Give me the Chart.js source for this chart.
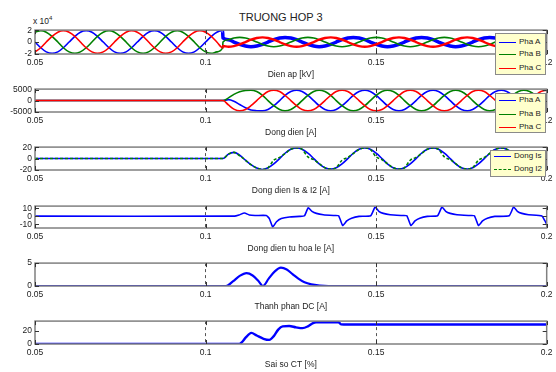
<!DOCTYPE html>
<html>
<head>
<meta charset="utf-8">
<script src="https://cdn.jsdelivr.net/npm/chart.js@4.4.1/dist/chart.umd.min.js"></script>
<style>
  body { margin: 0; background: #fff; }
  #fig { position: relative; width: 556px; height: 372px; overflow: hidden; font-family: "Liberation Sans", Arial, sans-serif; color: #222; }
  #fig canvas { position: absolute; left: 0; }
  .txt { position: absolute; white-space: nowrap; }
  .lg { position: absolute; background: #ffffcc; border: 1px solid #8a8a8a; font-size: 8px; box-sizing: border-box; }
  .lg .row { position: absolute; left: 3px; height: 10px; line-height: 10px; white-space: nowrap; }
  .lg .sw { position: absolute; left: 0; top: 5px; width: 17px; }
  .lg .lb { position: absolute; left: 20px; top: 0; white-space: nowrap; }
</style>
</head>
<body>
<div id="fig">
  <div class="txt" style="left:239px;top:11px;font-size:11px;">TRUONG HOP 3</div>
  <div class="txt" style="left:33px;top:15px;font-size:8.5px;">x 10<sup style="font-size:6px;">4</sup></div>
</div>
<script>
// time axis shared by the sine plots (s)
const tW = [0.05,0.0517,0.0533,0.055,0.0567,0.0583,0.06,0.0617,0.0633,0.065,
  0.0667,0.0683,0.07,0.0717,0.0733,0.075,0.0767,0.0783,0.08,0.0817,
  0.0833,0.085,0.0867,0.0883,0.09,0.0917,0.0933,0.095,0.0967,0.0983,
  0.1,0.1017,0.1033,0.105,0.1051,0.1067,0.1083,0.11,0.1117,0.1133,
  0.115,0.1167,0.1183,0.12,0.1217,0.1233,0.125,0.1267,0.1283,0.13,
  0.1317,0.1333,0.135,0.1367,0.1383,0.14,0.1417,0.1433,0.145,0.1467,
  0.1483,0.15,0.1517,0.1533,0.155,0.1567,0.1583,0.16,0.1617,0.1633,
  0.165,0.1667,0.1683,0.17,0.1717,0.1733,0.175,0.1767,0.1783,0.18,
  0.1817,0.1833,0.185,0.1867,0.1883,0.19,0.1917,0.1933,0.195,0.1967,
  0.1983,0.2];

// Dien ap (x 10^4)
const vA = [0,-0.98,-1.69,-1.95,-1.69,-0.98,0,0.98,1.69,1.95,
  1.69,0.98,0,-0.98,-1.69,-1.95,-1.69,-0.98,0,0.98,
  1.69,1.95,1.69,0.98,0,-0.98,-1.69,-1.95,-1.69,-0.98,
  0,0.98,1.69,1.95,
  0.69,0.4,0,-0.4,-0.69,-0.8,-0.69,-0.4,0,0.4,0.69,0.8,
  0.69,0.4,0,-0.4,-0.69,-0.8,-0.69,-0.4,0,0.4,0.69,0.8,
  0.69,0.4,0,-0.4,-0.69,-0.8,-0.69,-0.4,0,0.4,0.69,0.8,
  0.69,0.4,0,-0.4,-0.69,-0.8,-0.69,-0.4,0,0.4,0.69,0.8,
  0.69,0.4,0,-0.4,-0.69,-0.8,-0.69,-0.4,0,0.4];
const vB = [1.69,1.95,1.69,0.98,0,-0.98,-1.69,-1.95,-1.69,-0.98,
  0,0.98,1.69,1.95,1.69,0.98,0,-0.98,-1.69,-1.95,
  -1.69,-0.98,0,0.98,1.69,1.95,1.69,0.98,0,-0.98,
  -1.69,-1.95,-1.69,-0.98,
  0,0.4,0.69,0.8,0.69,0.4,0,-0.4,-0.69,-0.8,-0.69,-0.4,
  0,0.4,0.69,0.8,0.69,0.4,0,-0.4,-0.69,-0.8,-0.69,-0.4,
  0,0.4,0.69,0.8,0.69,0.4,0,-0.4,-0.69,-0.8,-0.69,-0.4,
  0,0.4,0.69,0.8,0.69,0.4,0,-0.4,-0.69,-0.8,-0.69,-0.4,
  0,0.4,0.69,0.8,0.69,0.4,0,-0.4,-0.69,-0.8];
const vC = [-1.69,-0.98,0,0.98,1.69,1.95,1.69,0.98,0,-0.98,
  -1.69,-1.95,-1.69,-0.98,0,0.98,1.69,1.95,1.69,0.98,
  0,-0.98,-1.69,-1.95,-1.69,-0.98,0,0.98,1.69,1.95,
  1.69,0.98,0,-0.98,
  -0.69,-0.8,-0.69,-0.4,0,0.4,0.69,0.8,0.69,0.4,0,-0.4,
  -0.69,-0.8,-0.69,-0.4,0,0.4,0.69,0.8,0.69,0.4,0,-0.4,
  -0.69,-0.8,-0.69,-0.4,0,0.4,0.69,0.8,0.69,0.4,0,-0.4,
  -0.69,-0.8,-0.69,-0.4,0,0.4,0.69,0.8,0.69,0.4,0,-0.4,
  -0.69,-0.8,-0.69,-0.4,0,0.4,0.69,0.8,0.69,0.4];

// Dong dien (A)
const iA = [0,0,0,0,0,0,0,0,0,0, 0,0,0,0,0,0,0,0,0,0, 0,0,0,0,0,0,0,0,0,0, 0,0,0,0,
  0,400,-300,-1800,-3300,-4300,-4600,-4700,
  -4070,-2350,0,2350,4070,4700,4070,2350,0,-2350,-4070,-4700,
  -4070,-2350,0,2350,4070,4700,4070,2350,0,-2350,-4070,-4700,
  -4070,-2350,0,2350,4070,4700,4070,2350,0,-2350,-4070,-4700,
  -4070,-2350,0,2350,4070,4700,4070,2350,0,-2350,-4070,-4700,
  -4070,-2350];
const iB = [0,0,0,0,0,0,0,0,0,0, 0,0,0,0,0,0,0,0,0,0, 0,0,0,0,0,0,0,0,0,0, 0,0,0,0,
  0,1200,2800,4000,4600,4700,4070,2350,
  0,-2350,-4070,-4700,-4070,-2350,0,2350,4070,4700,4070,2350,
  0,-2350,-4070,-4700,-4070,-2350,0,2350,4070,4700,4070,2350,
  0,-2350,-4070,-4700,-4070,-2350,0,2350,4070,4700,4070,2350,
  0,-2350,-4070,-4700,-4070,-2350,0,2350,4070,4700,4070,2350,
  0,-2350];
const iC = [0,0,0,0,0,0,0,0,0,0, 0,0,0,0,0,0,0,0,0,0, 0,0,0,0,0,0,0,0,0,0, 0,0,0,0,
  0,-2000,-3900,-4700,-4070,-2350,0,2350,
  4070,4700,4070,2350,0,-2350,-4070,-4700,-4070,-2350,0,2350,
  4070,4700,4070,2350,0,-2350,-4070,-4700,-4070,-2350,0,2350,
  4070,4700,4070,2350,0,-2350,-4070,-4700,-4070,-2350,0,2350,
  4070,4700,4070,2350,0,-2350,-4070,-4700,-4070,-2350,0,2350,
  4070,4700];

// Dong dien Is & I2 (A)
const iS = [0,0,0,0,0,0,0,0,0,0, 0,0,0,0,0,0,0,0,0,0, 0,0,0,0,0,0,0,0,0,0, 0,0,0,0,
  0,8,11,6,-3,-11,-17,-19.5,
  -16.5,-9.5,0,9.5,16.5,19,16.5,9.5,0,-9.5,-16.5,-19,
  -16.5,-9.5,0,9.5,16.5,19,16.5,9.5,0,-9.5,-16.5,-19,
  -16.5,-9.5,0,9.5,16.5,19,16.5,9.5,0,-9.5,-16.5,-19,
  -16.5,-9.5,0,9.5,16.5,19,16.5,9.5,0,-9.5,-16.5,-19,
  -16.5,-9.5];
const i2 = [0,0,0,0,0,0,0,0,0,0, 0,0,0,0,0,0,0,0,0,0, 0,0,0,0,0,0,0,0,0,0, 0,0,0,0,
  0,8,11,5,-3,-11,-17,-19.5,
  -16.5,-3,2,9,16.5,19,16.5,3,-2,-9,-16.5,-19,
  -16.5,-3,2,9,16.5,19,16.5,3,-2,-9,-16.5,-19,
  -16.5,-3,2,9,16.5,19,16.5,3,-2,-9,-16.5,-19,
  -16.5,-3,2,9,16.5,19,16.5,3,-2,-9,-16.5,-19,
  -16.5,-3];

// Dong dien tu hoa le (A)
const tM = [0.05,0.1085,0.1098,0.1114,0.1128,0.1145,0.1178,0.1187,0.1197,0.1208,
  0.1222,0.1246,0.1275,0.129,0.1301,0.1312,0.1325,0.1345,0.1375,0.139,
  0.1402,0.1414,0.1428,0.145,0.1484,0.1497,0.1508,0.1521,0.1541,0.1575,
  0.159,0.1602,0.1614,0.1628,0.165,0.168,0.1693,0.1704,0.1717,0.1737,
  0.1772,0.1788,0.18,0.1812,0.1826,0.1848,0.189,0.1903,0.1914,0.1927,
  0.1947,0.1986,0.1995,0.2];
const iM = [0,0,1.5,4,1.5,0.8,0.8,-3,-13.5,-7,
  -3,-1,-0.3,0.5,10.6,6,3.5,1.8,0.8,0.5,
  -11.8,-6,-2.5,-0.3,0.5,11.4,6,3.5,1.8,0.8,
  0.5,-11.8,-6,-2.5,-0.3,0.5,11.4,6,3.5,1.8,
  0.8,0.5,-11.8,-6,-2.5,-0.3,0.5,11.4,6,3.5,
  1.8,0.3,-6,-10];

// Thanh phan DC (A)
const tD = [0.05,0.106,0.108,0.11,0.112,0.1138,0.1155,0.1168,0.1185,0.1203,
  0.1221,0.1238,0.1255,0.1272,0.129,0.131,0.1335,0.136,0.2];
const vD = [0,0,1,2.2,2.8,2.3,1.1,0,1.6,3.2,
  4,3.6,2.6,1.6,0.8,0.35,0.1,0,0];

// Sai so CT (%)
const tE = [0.05,0.1099,0.1105,0.1118,0.1134,0.115,0.117,0.1187,0.12,0.1213,
  0.1226,0.1245,0.1265,0.1284,0.13,0.1315,0.1324,0.139,0.1397,0.1405,0.2];
const vE = [0,0,2,10,17,13,8,6.3,12,22,
  27,27.5,25.5,24.2,27,32,33.2,33.2,30,29.9,29.9];

const xTicks = [0.05, 0.1, 0.15, 0.2];
const yTicks1 = [-2, 0, 2];
const yTicks2 = [-5000, 0, 5000];
const yTicks3 = [-20, 0, 20];
const yTicks4 = [-10, 0, 10];
const yTicks5 = [0, 5];
const yTicks6 = [0, 20];

const BLUE = '#0000ff', GREEN = '#008000', RED = '#ff0000';
const FONT = { family: "'Liberation Sans', Arial, sans-serif", size: 8.5 };

function pts(t, v) { return t.map((x, i) => ({ x: x, y: v[i] })); }

// axes box + inward ticks like matlab
const frame = {
  id: 'frame',
  afterDraw(chart) {
    const { ctx, chartArea: a, scales: { x, y } } = chart;
    ctx.save();
    ctx.strokeStyle = '#808080';
    ctx.lineWidth = 1.5;
    ctx.strokeRect(a.left, a.top, a.right - a.left, a.bottom - a.top);
    ctx.strokeStyle = '#333';
    ctx.lineWidth = 1;
    ctx.beginPath();
    y.ticks.forEach(t => {
      const py = Math.round(y.getPixelForValue(t.value)) + 0.5;
      ctx.moveTo(a.left, py); ctx.lineTo(a.left + 4, py);
      ctx.moveTo(a.right, py); ctx.lineTo(a.right - 4, py);
    });
    x.ticks.forEach(t => {
      const px = Math.round(x.getPixelForValue(t.value)) + 0.5;
      ctx.moveTo(px, a.bottom); ctx.lineTo(px, a.bottom - 4);
      ctx.moveTo(px, a.top); ctx.lineTo(px, a.top + 4);
    });
    ctx.stroke();
    ctx.restore();
  }
};

const panels = [
  { top: 29, bottom: 54, yMin: -2.05, yMax: 2.05, yTicks: yTicks1, xLabel: 'Dien ap [kV]',
    legend: { left: 495, top: 33, w: 51, h: 42, rows: [9.3, 21, 35.3] },
    sets: [
      { label: 'Pha A', data: pts(tW, vA), borderColor: BLUE,
        segment: { borderWidth: c => c.p0.parsed.x >= 0.105 ? 3.5 : 1.6 } },
      { label: 'Pha B', data: pts(tW, vB), borderColor: GREEN },
      { label: 'Pha C', data: pts(tW, vC), borderColor: RED,
        segment: { borderWidth: c => c.p0.parsed.x >= 0.105 ? 2.4 : 1.6 } }
    ] },
  { top: 88, bottom: 112, yMin: -5200, yMax: 5200, yTicks: yTicks2, xLabel: 'Dong dien [A]',
    legend: { left: 495, top: 93, w: 51, h: 40, rows: [7, 21, 33.7] },
    sets: [
      { label: 'Pha A', data: pts(tW, iA), borderColor: BLUE },
      { label: 'Pha B', data: pts(tW, iB), borderColor: GREEN },
      { label: 'Pha C', data: pts(tW, iC), borderColor: RED }
    ] },
  { top: 146, bottom: 170, yMin: -20.5, yMax: 20.5, yTicks: yTicks3, xLabel: 'Dong dien Is & I2 [A]',
    legend: { left: 490, top: 150, w: 56, h: 27, rows: [6, 19] },
    sets: [
      { label: 'Dong Is', data: pts(tW, iS), borderColor: BLUE },
      { label: 'Dong I2', data: pts(tW, i2), borderColor: GREEN, borderDash: [3, 2] }
    ] },
  { top: 205, bottom: 228, yMin: -14.8, yMax: 12.6, yTicks: yTicks4, xLabel: 'Dong dien tu hoa le [A]',
    sets: [ { label: 'Im', data: pts(tM, iM), borderColor: BLUE, cubicInterpolationMode: 'default', tension: 0.15 } ] },
  { top: 262, bottom: 286, yMin: 0, yMax: 5, yTicks: yTicks5, xLabel: 'Thanh phan DC [A]',
    sets: [ { label: 'DC', data: pts(tD, vD), borderColor: BLUE, borderWidth: 2.2 } ] },
  { top: 320, bottom: 344, yMin: 0, yMax: 35, yTicks: yTicks6, xLabel: 'Sai so CT [%]',
    sets: [ { label: 'CT', data: pts(tE, vE), borderColor: BLUE, borderWidth: 2.4 } ] }
];

const fig = document.getElementById('fig');
const PAD_TOP = 7, X_H = 26;

panels.forEach(p => {
  const cv = document.createElement('canvas');
  const h = PAD_TOP + (p.bottom - p.top) + X_H;
  cv.width = 556; cv.height = h;
  cv.style.top = (p.top - PAD_TOP) + 'px';
  cv.style.width = '556px'; cv.style.height = h + 'px';
  fig.appendChild(cv);

  // later series on top, like matlab
  const datasets = p.sets.map((s, i) => Object.assign({
    borderWidth: 1.6, pointRadius: 0, fill: false,
    cubicInterpolationMode: 'monotone', order: -i
  }, s));

  new Chart(cv, {
    type: 'line',
    data: { datasets: datasets },
    plugins: [frame],
    options: {
      responsive: false,
      animation: false,
      devicePixelRatio: 1,
      layout: { padding: { top: PAD_TOP, right: 8, left: 0, bottom: 0 } },
      plugins: { legend: { display: false }, tooltip: { enabled: false } },
      scales: {
        x: {
          type: 'linear', min: 0.05, max: 0.2,
          afterBuildTicks: s => { s.ticks = xTicks.map(v => ({ value: v })); },
          afterFit: s => { s.height = X_H; },
          grid: {
            drawTicks: false, lineWidth: 1,
            color: c => (c.tick && (c.tick.value === 0.1 || c.tick.value === 0.15)) ? '#555' : 'rgba(0,0,0,0)'
          },
          border: { display: false, dash: [3, 3] },
          ticks: { padding: 3.4, color: '#222', font: FONT, maxRotation: 0, autoSkip: false,
                   callback: v => String(v) },
          title: { display: true, text: p.xLabel, padding: 0, color: '#222', font: FONT }
        },
        y: {
          min: p.yMin, max: p.yMax,
          afterBuildTicks: s => { s.ticks = p.yTicks.map(v => ({ value: v })); },
          afterFit: s => { s.width = 35; },
          grid: { display: false, drawTicks: false },
          border: { display: false },
          ticks: { padding: 3, color: '#222', font: FONT, autoSkip: false,
                   callback: v => String(v) }
        }
      }
    }
  });

  if (p.legend) {
    const lg = document.createElement('div');
    lg.className = 'lg';
    lg.style.left = p.legend.left + 'px';
    lg.style.top = p.legend.top + 'px';
    lg.style.width = p.legend.w + 'px';
    lg.style.height = p.legend.h + 'px';
    p.sets.forEach((s, i) => {
      const row = document.createElement('div');
      row.className = 'row';
      row.style.top = (p.legend.rows[i] - 6) + 'px';
      const sw = document.createElement('div');
      sw.className = 'sw';
      sw.style.borderTop = '1.6px ' + (s.borderDash ? 'dashed ' : 'solid ') + s.borderColor;
      const lb = document.createElement('div');
      lb.className = 'lb';
      lb.textContent = s.label;
      row.appendChild(sw); row.appendChild(lb);
      lg.appendChild(row);
    });
    fig.appendChild(lg);
  }
});
</script>
</body>
</html>
